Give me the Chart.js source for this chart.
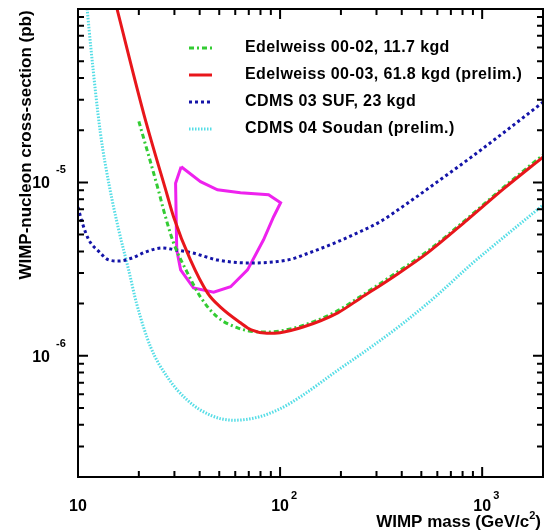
<!DOCTYPE html>
<html>
<head>
<meta charset="utf-8">
<script src="https://cdn.jsdelivr.net/npm/chart.js@4.4.1/dist/chart.umd.min.js"></script>
<style>
  html, body { margin: 0; padding: 0; background: #fff; }
  #wrap { width: 548px; height: 531px; position: relative; }
</style>
</head>
<body>
<div id="wrap"><canvas id="limitChart"></canvas></div>
<script>
'use strict';

// axis decades and their exponent labels
var xDecades = [10, 100, 1000];
var xExponents = ['', '2', '3'];
var yDecades = [1e-5, 1e-6];
var yExponents = ['-5', '-6'];

// Edelweiss 00-02, 11.7 kgd
var edw02Mass = [20.0, 25.1, 26.5, 29.7, 34.8, 40.4, 49.0, 61.6, 74.0, 88, 100, 131, 193, 250, 366, 535, 845, 1280, 2000];
var edw02Xsec = [2.25e-5, 8.85e-6, 6.95e-6, 4.48e-6, 3.01e-6, 2.18e-6, 1.67e-6, 1.45e-6, 1.38e-6, 1.37e-6, 1.39e-6, 1.50e-6, 1.82e-6, 2.20e-6, 2.95e-6, 4.0e-6, 6.2e-6, 9.4e-6, 1.44e-5];

// Edelweiss 00-03, 61.8 kgd (prelim.)
var edw03Mass = [15.6, 21.2, 27.6, 29.7, 36.0, 43.8, 50.7, 63.7, 72, 86, 100, 131, 193, 250, 366, 535, 845, 1280, 2000];
var edw03Xsec = [1.0e-4, 2.46e-5, 8.49e-6, 6.34e-6, 3.57e-6, 2.30e-6, 1.91e-6, 1.55e-6, 1.41e-6, 1.35e-6, 1.36e-6, 1.47e-6, 1.77e-6, 2.15e-6, 2.87e-6, 3.91e-6, 6.08e-6, 9.2e-6, 1.40e-5];

// CDMS 03 SUF, 23 kgd
var cdms03Mass = [10, 10.5, 11.3, 12.7, 14.2, 15.9, 18.6, 21.6, 26.2, 30.4, 36.9, 49.0, 71.5, 112.7, 131, 193, 250, 314, 409, 602, 877, 1280, 2000];
var cdms03Xsec = [7.2e-6, 5.85e-6, 4.67e-6, 3.99e-6, 3.57e-6, 3.52e-6, 3.67e-6, 3.97e-6, 4.19e-6, 4.08e-6, 3.92e-6, 3.57e-6, 3.43e-6, 3.6e-6, 3.82e-6, 4.55e-6, 5.21e-6, 5.95e-6, 7.32e-6, 1.01e-5, 1.39e-5, 1.94e-5, 2.9e-5];

// CDMS 04 Soudan (prelim.)
var cdms04Mass = [11.1, 11.6, 12.9, 14.3, 15.9, 17.8, 19.5, 22.9, 27.7, 34.8, 45.3, 58.9, 77.4, 100, 126, 193, 281, 409, 602, 877, 1100, 2000];
var cdms04Xsec = [1.0e-4, 5.85e-5, 1.94e-5, 9.5e-6, 5.33e-6, 3.13e-6, 2.0e-6, 1.12e-6, 7.53e-7, 5.54e-7, 4.54e-7, 4.25e-7, 4.42e-7, 4.95e-7, 5.8e-7, 8.26e-7, 1.12e-6, 1.55e-6, 2.25e-6, 3.35e-6, 4.18e-6, 7.4e-6];

// closed allowed region
var regionMass = [32.4, 30.4, 30.8, 32.2, 37.3, 46.9, 56.9, 69.0, 82.8, 92.9, 100.6, 87.7, 63.7, 49.0, 40.4, 32.4];
var regionXsec = [1.23e-5, 9.9e-6, 4.08e-6, 3.13e-6, 2.46e-6, 2.33e-6, 2.50e-6, 3.13e-6, 4.67e-6, 6.34e-6, 7.63e-6, 8.49e-6, 8.72e-6, 9.07e-6, 1.01e-5, 1.23e-5];

var FONT = '"Liberation Sans", Arial, Helvetica, sans-serif';

function toPoints(xs, ys) {
  return xs.map(function (x, i) { return { x: x, y: ys[i] }; });
}

// frame, inward ticks on all four sides, tick labels, titles and legend
var decorations = {
  id: 'decorations',
  afterDatasetsDraw: function (chart) {
    var ctx = chart.ctx;
    var a = chart.chartArea;
    var xs = chart.scales.x;
    var ys = chart.scales.y;
    var d, k, v, p, len;

    ctx.save();
    ctx.strokeStyle = '#000';
    ctx.lineWidth = 2;
    ctx.strokeRect(a.left, a.top, a.right - a.left, a.bottom - a.top);

    ctx.beginPath();
    for (d = 10; d <= 1000; d *= 10) {
      for (k = 1; k <= 9; k++) {
        v = k * d;
        if (v < xs.min || v > xs.max) continue;
        p = xs.getPixelForValue(v);
        len = k === 1 ? 10 : 6;
        ctx.moveTo(p, a.bottom); ctx.lineTo(p, a.bottom - len);
        ctx.moveTo(p, a.top); ctx.lineTo(p, a.top + len);
      }
    }
    for (d = 1e-7; d <= 1e-4; d *= 10) {
      for (k = 1; k <= 9; k++) {
        v = k * d;
        if (v < ys.min * 0.999 || v > ys.max * 1.001) continue;
        p = ys.getPixelForValue(v);
        len = k === 1 ? 10 : 6;
        ctx.moveTo(a.left, p); ctx.lineTo(a.left + len, p);
        ctx.moveTo(a.right, p); ctx.lineTo(a.right - len, p);
      }
    }
    ctx.stroke();

    ctx.fillStyle = '#000';
    ctx.textBaseline = 'alphabetic';
    xDecades.forEach(function (val, i) {
      var px = xs.getPixelForValue(val);
      ctx.font = 'bold 16px ' + FONT;
      ctx.textAlign = 'center';
      ctx.fillText('10', px, 511);
      if (xExponents[i]) {
        ctx.font = 'bold 11px ' + FONT;
        ctx.textAlign = 'left';
        ctx.fillText(xExponents[i], px + 11, 499);
      }
    });
    yDecades.forEach(function (val, i) {
      var py = ys.getPixelForValue(val);
      ctx.font = 'bold 16px ' + FONT;
      ctx.textAlign = 'right';
      ctx.fillText('10', 50, py + 6);
      ctx.font = 'bold 11px ' + FONT;
      ctx.textAlign = 'left';
      ctx.fillText(yExponents[i], 56, py - 9);
    });

    // y title
    ctx.save();
    ctx.translate(31, 145);
    ctx.rotate(-Math.PI / 2);
    ctx.font = 'bold 17px ' + FONT;
    ctx.textAlign = 'center';
    ctx.fillText('WIMP-nucleon cross-section (pb)', 0, 0);
    ctx.restore();

    // x title with superscript
    var main = 'WIMP mass (GeV/c';
    ctx.font = 'bold 17px ' + FONT;
    var wMain = ctx.measureText(main).width;
    var wClose = ctx.measureText(')').width;
    ctx.font = 'bold 11px ' + FONT;
    var wSup = ctx.measureText('2').width;
    var right = 541;
    var start = right - wClose - wSup - wMain;
    ctx.textAlign = 'left';
    ctx.font = 'bold 17px ' + FONT;
    ctx.fillText(main, start, 527);
    ctx.fillText(')', start + wMain + wSup, 527);
    ctx.font = 'bold 11px ' + FONT;
    ctx.fillText('2', start + wMain, 519);

    // legend
    var row = 0;
    chart.data.datasets.forEach(function (ds) {
      if (!ds.label) return;
      var y = 48 + row * 27;
      ctx.save();
      ctx.strokeStyle = ds.borderColor;
      ctx.lineWidth = ds.borderWidth;
      ctx.setLineDash(ds.borderDash || []);
      ctx.beginPath();
      ctx.moveTo(189, y);
      ctx.lineTo(212, y);
      ctx.stroke();
      ctx.restore();
      ctx.font = 'bold 16px ' + FONT;
      ctx.letterSpacing = '0.4px';
      ctx.textAlign = 'left';
      ctx.textBaseline = 'middle';
      ctx.fillText(ds.label, 245, y);
      ctx.letterSpacing = '0px';
      row++;
    });
    ctx.restore();
  }
};

document.addEventListener('DOMContentLoaded', function () {
  var canvas = document.getElementById('limitChart');
  var ctx = canvas.getContext('2d');

  new Chart(ctx, {
    type: 'scatter',
    data: {
      datasets: [{
        label: 'Edelweiss 00-02, 11.7 kgd',
        data: toPoints(edw02Mass, edw02Xsec),
        showLine: true,
        borderColor: '#33cc33',
        borderWidth: 3,
        borderDash: [5, 3, 2, 3],
        pointRadius: 0,
        cubicInterpolationMode: 'monotone',
        order: 2
      }, {
        label: 'Edelweiss 00-03, 61.8 kgd (prelim.)',
        data: toPoints(edw03Mass, edw03Xsec),
        showLine: true,
        borderColor: '#e8161b',
        borderWidth: 3,
        pointRadius: 0,
        cubicInterpolationMode: 'monotone',
        order: 1
      }, {
        label: 'CDMS 03 SUF, 23 kgd',
        data: toPoints(cdms03Mass, cdms03Xsec),
        showLine: true,
        borderColor: '#1414a8',
        borderWidth: 3,
        borderDash: [3, 3],
        pointRadius: 0,
        cubicInterpolationMode: 'monotone',
        order: 3
      }, {
        label: 'CDMS 04 Soudan (prelim.)',
        data: toPoints(cdms04Mass, cdms04Xsec),
        showLine: true,
        borderColor: '#55dde6',
        borderWidth: 3,
        borderDash: [1.5, 1.5],
        pointRadius: 0,
        cubicInterpolationMode: 'monotone',
        order: 4
      }, {
        label: '',
        data: toPoints(regionMass, regionXsec),
        showLine: true,
        borderColor: '#ee22ee',
        borderWidth: 3,
        pointRadius: 0,
        tension: 0,
        order: 5
      }]
    },
    options: {
      animation: false,
      responsive: true,
      maintainAspectRatio: false,
      events: [],
      layout: {
        padding: { top: 9, right: 5, left: 0, bottom: 0 }
      },
      scales: {
        x: {
          type: 'logarithmic',
          min: 10,
          max: 2000,
          ticks: { display: false },
          grid: { display: false },
          border: { display: false },
          afterFit: function (s) { s.height = 54; }
        },
        y: {
          type: 'logarithmic',
          min: 2e-7,
          max: 1e-4,
          ticks: { display: false },
          grid: { display: false },
          border: { display: false },
          afterFit: function (s) { s.width = 78; }
        }
      },
      plugins: {
        legend: { display: false },
        tooltip: { enabled: false }
      }
    },
    plugins: [decorations]
  });
});
</script>
</body>
</html>
